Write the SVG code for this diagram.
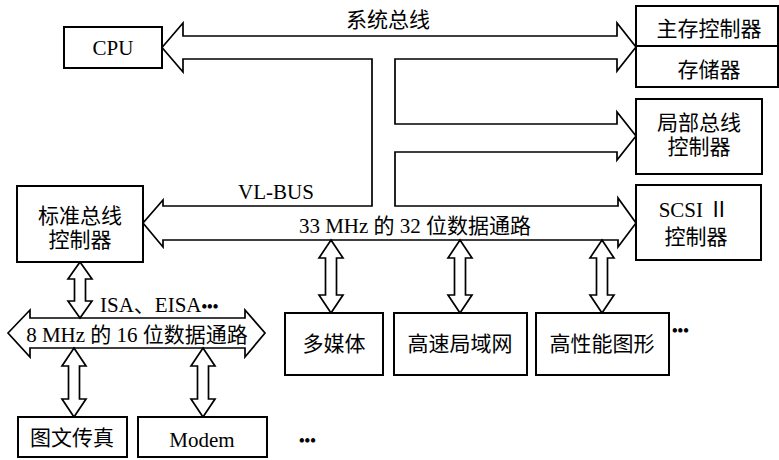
<svg xmlns="http://www.w3.org/2000/svg" width="779" height="460" viewBox="0 0 779 460">
<defs>
<style>
.box{fill:#fff;stroke:#000;stroke-width:2}
.bus{fill:#fff;stroke:#000;stroke-width:1.7;stroke-linejoin:miter}
.arr{fill:#fff;stroke:#000;stroke-width:1.7;stroke-linejoin:miter}
text{font-family:"Liberation Serif","Noto Sans CJK SC",serif;font-size:21px;fill:#000}
.c{text-anchor:middle}
.dots{font-size:16px;font-weight:bold}
</style>
</defs>
<rect width="779" height="460" fill="#fff"/>
<g id="connectors">
<path class="bus" d="M162,47.5 L183,23 L183,36 L617,36 L617,23 L636,47 L617,71 L617,59 L395,59 L395,124 L617,124 L617,112 L636,136 L617,160 L617,152 L395,152 L395,206 L618,206 L618,198 L636,223 L618,247 L618,240 L163,240 L163,247 L143,223 L163,200 L163,206 L372,206 L372,59 L183,59 L183,72 Z"/>
<path class="bus" d="M8,333 L30,310 L30,318 L245,318 L245,310 L265,333 L245,357 L245,348 L30,348 L30,357 Z"/>
<path class="arr" d="M331,240 L343,258 L336.5,258 L336.5,295 L343,295 L331,313 L319,295 L325.5,295 L325.5,258 L319,258 Z"/>
<path class="arr" d="M460,240 L472,258 L465.5,258 L465.5,295 L472,295 L460,313 L448,295 L454.5,295 L454.5,258 L448,258 Z"/>
<path class="arr" d="M602,240 L614,258 L607.5,258 L607.5,295 L614,295 L602,313 L590,295 L596.5,295 L596.5,258 L590,258 Z"/>
<path class="arr" d="M80,262 L92,279 L85.5,279 L85.5,301 L92,301 L80,318 L68,301 L74.5,301 L74.5,279 L68,279 Z"/>
<path class="arr" d="M74,348 L86,366 L79.5,366 L79.5,399 L86,399 L74,417 L62,399 L68.5,399 L68.5,366 L62,366 Z"/>
<path class="arr" d="M203,348 L215,366 L208.5,366 L208.5,399 L215,399 L203,417 L191,399 L197.5,399 L197.5,366 L191,366 Z"/>
<text class="c" x="388" y="27">系统总线</text>
<text x="238" y="199">VL-BUS</text>
<text class="c" x="415" y="233">33 MHz 的 32 位数据通路</text>
<text x="100" y="312">ISA、EISA<tspan class="dots">•••</tspan></text>
<text class="c" x="137" y="342">8 MHz 的 16 位数据通路</text>
</g>
<g id="cpu">
<rect class="box" x="64" y="27" width="98" height="41"/>
<text class="c" x="113" y="55">CPU</text>
</g>
<g id="main-memory">
<rect class="box" x="636" y="6" width="142" height="81"/>
<line x1="636" y1="46" x2="778" y2="46" stroke="#000" stroke-width="2"/>
<text class="c" x="709" y="36">主存控制器</text>
<text class="c" x="709" y="77">存储器</text>
</g>
<g id="local-bus-controller">
<rect class="box" x="636" y="99" width="126" height="75"/>
<text class="c" x="699" y="130">局部总线</text>
<text class="c" x="699" y="154">控制器</text>
</g>
<g id="scsi-controller">
<rect class="box" x="636" y="185" width="125" height="75"/>
<text class="c" x="694" y="217">SCSI Ⅱ</text>
<text class="c" x="696" y="244">控制器</text>
</g>
<g id="std-bus-controller">
<rect class="box" x="17" y="186" width="126" height="76"/>
<text class="c" x="80" y="223">标准总线</text>
<text class="c" x="80" y="247">控制器</text>
</g>
<g id="multimedia">
<rect class="box" x="285" y="313" width="98" height="62"/>
<text class="c" x="334" y="351">多媒体</text>
</g>
<g id="fast-lan">
<rect class="box" x="394" y="313" width="133" height="62"/>
<text class="c" x="460" y="351">高速局域网</text>
</g>
<g id="graphics">
<rect class="box" x="536" y="313" width="133" height="62"/>
<text class="c" x="602" y="351">高性能图形</text>
</g>
<g id="more-vl">
<text class="dots" x="672" y="336">•••</text>
</g>
<g id="fax">
<rect class="box" x="18" y="417" width="109" height="40"/>
<text class="c" x="72" y="445">图文传真</text>
</g>
<g id="modem">
<rect class="box" x="138" y="417" width="129" height="40"/>
<text class="c" x="202" y="447">Modem</text>
</g>
<g id="more-isa">
<text class="dots" x="299" y="446">•••</text>
</g>
</svg>
